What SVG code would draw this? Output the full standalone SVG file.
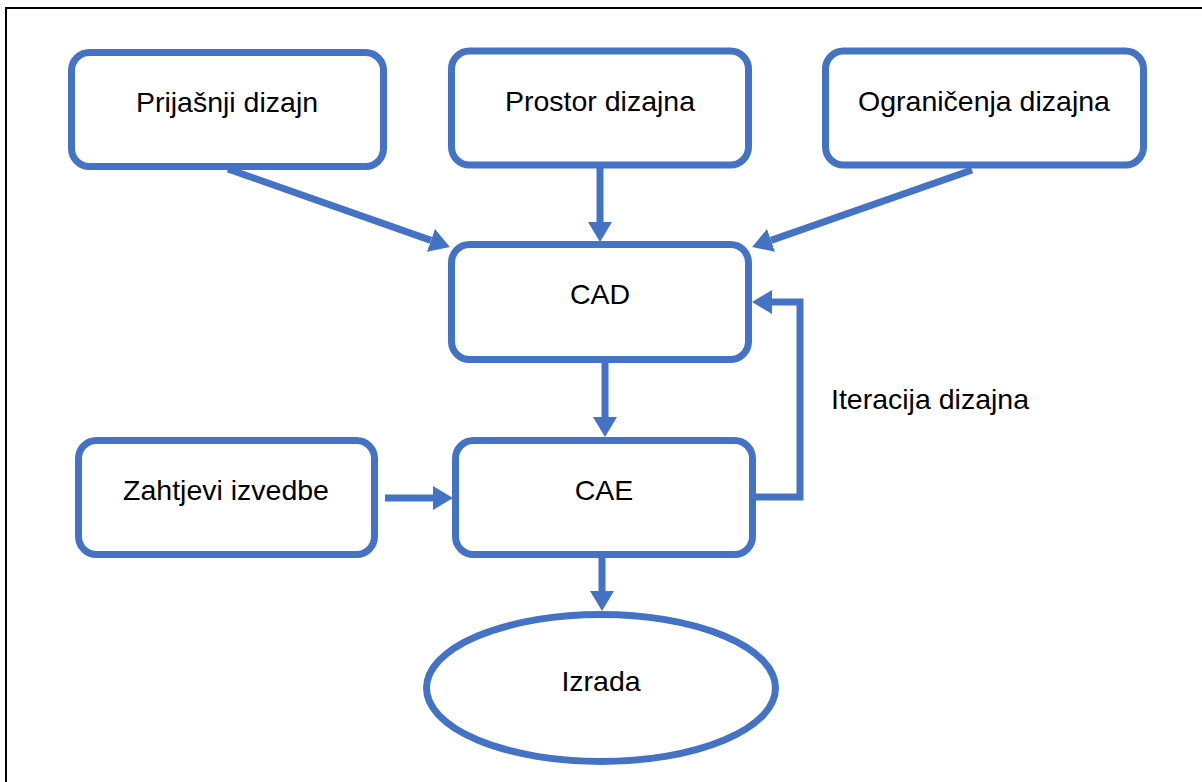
<svg xmlns="http://www.w3.org/2000/svg" width="1202" height="782" viewBox="0 0 1202 782">
<defs>
<style>
.node{fill:#fff;stroke:#4472C4;stroke-width:7}
.lbl{font-family:"Liberation Sans",Arial,sans-serif;font-size:28.5px;fill:#000;text-anchor:middle}
.edge{fill:none;stroke:#4472C4;stroke-width:7}
</style>
<marker id="ah" viewBox="0 0 20 24" refX="0" refY="12" markerWidth="20" markerHeight="24" markerUnits="userSpaceOnUse" orient="auto">
<path d="M0,0 L20,12 L0,24 Z" fill="#4472C4"/>
</marker>
</defs>
<rect x="6" y="8" width="1300" height="900" fill="#fff" stroke="#000" stroke-width="2"/>
<g id="connectors">
<line class="edge" x1="600" y1="168" x2="600" y2="222" marker-end="url(#ah)"/>
<line class="edge" x1="228" y1="169" x2="431" y2="240.4" marker-end="url(#ah)"/>
<line class="edge" x1="972" y1="170" x2="771" y2="240.4" marker-end="url(#ah)"/>
<line class="edge" x1="605" y1="363" x2="605" y2="417" marker-end="url(#ah)"/>
<line class="edge" x1="385" y1="498" x2="433" y2="498" marker-end="url(#ah)"/>
<line class="edge" x1="602" y1="558" x2="602" y2="591" marker-end="url(#ah)"/>
<path class="edge" d="M756,497 H800 V302 H772" marker-end="url(#ah)"/>
</g>
<g id="n-prijasnji"><rect class="node" x="71.5" y="52.5" width="312" height="114" rx="18"/><text class="lbl" x="227" y="112">Prijašnji dizajn</text></g>
<g id="n-prostor"><rect class="node" x="451.5" y="51" width="297" height="114" rx="18"/><text class="lbl" x="600" y="111">Prostor dizajna</text></g>
<g id="n-ogranicenja"><rect class="node" x="825.5" y="51" width="318" height="114" rx="18"/><text class="lbl" x="984" y="111">Ograničenja dizajna</text></g>
<g id="n-cad"><rect class="node" x="451.5" y="244.5" width="297" height="115" rx="18"/><text class="lbl" x="600" y="304">CAD</text></g>
<g id="n-cae"><rect class="node" x="455.5" y="440.5" width="297" height="114" rx="18"/><text class="lbl" x="604" y="500">CAE</text></g>
<g id="n-zahtjevi"><rect class="node" x="78.5" y="440.5" width="296" height="114" rx="18"/><text class="lbl" x="226" y="500">Zahtjevi izvedbe</text></g>
<g id="n-izrada"><ellipse class="node" cx="601" cy="688" rx="174.5" ry="73.5"/><text class="lbl" x="601" y="691">Izrada</text></g>
<g id="l-iteracija"><text class="lbl" x="831" y="409" style="text-anchor:start">Iteracija dizajna</text></g>
</svg>
